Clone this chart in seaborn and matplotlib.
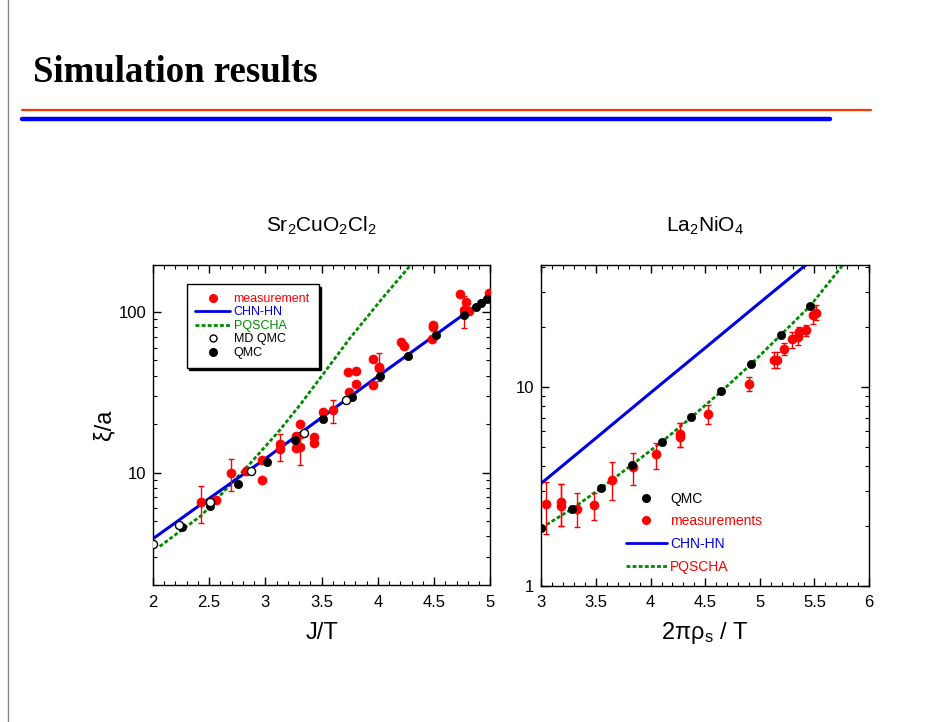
import pandas as pd
import seaborn as sns
import matplotlib.pyplot as plt
from matplotlib.lines import Line2D
from matplotlib.ticker import MultipleLocator, FuncFormatter, LogLocator, NullFormatter

# ---- Sr2CuO2Cl2 (left panel) ----
sr_meas_x = [2.43, 2.56, 2.69, 2.83, 2.97, 2.97, 3.13, 3.13, 3.27, 3.27, 3.31, 3.31, 3.43, 3.43,
             3.51, 3.60, 3.73, 3.81, 3.81, 3.74, 3.96, 3.96, 4.01, 4.01, 4.21, 4.23, 4.49, 4.49,
             4.48, 4.73, 4.78, 4.77, 4.81, 4.99]
sr_meas_y = [6.59, 6.78, 9.9, 10.2, 12.0, 8.97, 15.0, 14.1, 17.0, 14.3, 20.1, 14.4, 16.6, 15.3,
             23.9, 24.5, 42.2, 42.8, 35.5, 31.6, 51.0, 35.0, 45.7, 44.6, 64.9, 61.6, 82.7, 80.0,
             67.4, 130, 115, 103, 102, 132]
sr_err_x = [2.43, 2.69, 3.13, 3.31, 3.60, 4.01, 4.77]
sr_err_y = [6.59, 9.9, 15.0, 14.4, 24.5, 45.7, 103]
sr_err_lo = [4.86, 7.7, 11.8, 11.1, 20.4, 36.9, 79.6]
sr_err_hi = [8.28, 12.2, 17.5, 16.5, 28.4, 55.2, 125]

sr_qmc_x = [2.26, 2.51, 2.76, 3.01, 3.26, 3.51, 3.77, 4.02, 4.27, 4.52, 4.77, 4.87, 4.92, 4.97]
sr_qmc_y = [4.57, 6.22, 8.47, 11.7, 15.9, 21.7, 29.5, 39.8, 53.2, 71.4, 95.3, 107, 114, 121]

sr_mdqmc_x = [2.00, 2.23, 2.51, 2.87, 3.34, 3.72]
sr_mdqmc_y = [3.61, 4.72, 6.59, 10.2, 17.7, 28.1]

sr_chn_x = [2.0, 2.5, 3.0, 3.5, 4.0, 4.5, 5.0]
sr_chn_y = [3.87, 6.9, 12.2, 22.0, 39.7, 71.0, 127]

sr_pq_x = [2.06, 2.43, 2.86, 3.12, 3.31, 3.52, 3.75, 4.05, 4.30]
sr_pq_y = [3.47, 5.4, 11.3, 18.1, 26.5, 41.6, 68.4, 124, 199]

# ---- La2NiO4 (right panel) ----
la_qmc_x = [3.00, 3.28, 3.55, 3.83, 4.10, 4.37, 4.64, 4.92, 5.19, 5.46]
la_qmc_y = [1.95, 2.43, 3.10, 4.05, 5.27, 7.08, 9.55, 13.0, 18.2, 25.5]

la_meas_x = [3.04, 3.18, 3.18, 3.33, 3.48, 3.65, 3.84, 4.05, 4.27, 4.27, 4.53, 4.90,
             5.13, 5.16, 5.22, 5.29, 5.35, 5.36, 5.42, 5.49, 5.51]
la_meas_y = [2.57, 2.62, 2.50, 2.44, 2.55, 3.40, 3.93, 4.58, 5.80, 5.61, 7.30, 10.3,
             13.7, 13.7, 15.5, 17.3, 17.8, 18.9, 19.2, 22.9, 23.5]
la_meas_lo = [1.82, 1.99, 1.99, 1.96, 2.13, 2.68, 3.22, 3.85, 5.00, 5.00, 6.47, 9.51,
              12.4, 12.4, 14.4, 15.7, 16.2, 17.8, 18.0, 20.8, 21.6]
la_meas_hi = [3.30, 3.25, 3.25, 2.92, 2.92, 4.17, 4.67, 5.24, 6.60, 6.60, 8.09, 11.2,
              15.0, 15.0, 16.6, 18.9, 19.5, 20.0, 20.4, 25.2, 25.7]

la_chn_x = [3.0, 3.5, 4.0, 4.5, 5.0, 5.42]
la_chn_y = [3.27, 5.52, 9.33, 15.7, 26.5, 41]

la_pq_x = [3.00, 3.28, 3.55, 3.83, 4.10, 4.37, 4.64, 4.92, 5.19, 5.46, 5.76]
la_pq_y = [1.95, 2.43, 3.10, 4.05, 5.27, 7.0, 9.4, 13.0, 18.2, 25.5, 41]

RED = '#ff0000'
BLUE = '#0000e6'
GREEN = '#008a00'

sns.set_style('ticks')
plt.rcParams['font.family'] = ['Liberation Sans Narrow', 'Liberation Sans', 'DejaVu Sans']
plt.rcParams['text.color'] = 'black'
plt.rcParams['axes.labelcolor'] = 'black'
plt.rcParams['mathtext.fontset'] = 'custom'
plt.rcParams['mathtext.rm'] = 'Liberation Sans'
plt.rcParams['mathtext.default'] = 'regular'

fig = plt.figure(figsize=(9.53, 7.22), dpi=100)
ax1 = fig.add_axes([0.1605, 0.190, 0.354, 0.443])
ax2 = fig.add_axes([0.568, 0.189, 0.344, 0.444])

dash = (0, (1.4, 0.8))

# left panel
sns.lineplot(x=sr_pq_x, y=sr_pq_y, ax=ax1, color=GREEN, lw=2, linestyle=dash, sort=False, estimator=None)
sns.lineplot(x=sr_chn_x, y=sr_chn_y, ax=ax1, color=BLUE, lw=2.2, sort=False, estimator=None)
ax1.errorbar(sr_err_x, sr_err_y,
             yerr=[[y - lo for y, lo in zip(sr_err_y, sr_err_lo)], [hi - y for y, hi in zip(sr_err_y, sr_err_hi)]],
             fmt='none', ecolor=RED, elinewidth=1, capsize=2.5, zorder=3)
sns.scatterplot(x=sr_meas_x, y=sr_meas_y, ax=ax1, color=RED, s=42, edgecolor=RED, zorder=4)
sns.scatterplot(x=sr_qmc_x, y=sr_qmc_y, ax=ax1, color='black', s=36, edgecolor='black', zorder=5)
sns.scatterplot(x=sr_mdqmc_x, y=sr_mdqmc_y, ax=ax1, color='white', s=34, edgecolor='black', linewidth=1, zorder=5)
ax1.set_yscale('log')
ax1.set_xlim(2, 5)
ax1.set_ylim(2.0, 196)

# right panel
sns.lineplot(x=la_chn_x, y=la_chn_y, ax=ax2, color=BLUE, lw=2.2, sort=False, estimator=None)
sns.lineplot(x=la_pq_x, y=la_pq_y, ax=ax2, color=GREEN, lw=2, linestyle=dash, sort=False, estimator=None)
ax2.errorbar(la_meas_x, la_meas_y,
             yerr=[[y - lo for y, lo in zip(la_meas_y, la_meas_lo)], [hi - y for y, hi in zip(la_meas_y, la_meas_hi)]],
             fmt='none', ecolor=RED, elinewidth=1, capsize=2.5, zorder=3)
sns.scatterplot(x=la_meas_x, y=la_meas_y, ax=ax2, color=RED, s=42, edgecolor=RED, zorder=4)
sns.scatterplot(x=la_qmc_x, y=la_qmc_y, ax=ax2, color='black', s=36, edgecolor='black', zorder=5)
ax2.set_yscale('log')
ax2.set_xlim(3, 6)
ax2.set_ylim(1, 41)

fmt = FuncFormatter(lambda v, p: '{:g}'.format(v))
for ax in (ax1, ax2):
    ax.xaxis.set_major_locator(MultipleLocator(0.5))
    ax.xaxis.set_minor_locator(MultipleLocator(0.1))
    ax.xaxis.set_major_formatter(fmt)
    ax.yaxis.set_major_locator(LogLocator(base=10))
    ax.yaxis.set_major_formatter(fmt)
    ax.yaxis.set_minor_locator(LogLocator(base=10, subs=range(2, 10)))
    ax.yaxis.set_minor_formatter(NullFormatter())
    ax.tick_params(which='both', direction='in', top=True, right=True, labelsize=12, colors='black')
    ax.tick_params(which='major', length=6, width=1)
    ax.tick_params(which='minor', length=3, width=0.8)
    for s in ax.spines.values():
        s.set_visible(True)
        s.set_color('black')
        s.set_linewidth(1)
    ax.tick_params(axis='x', pad=7)
    ax.tick_params(axis='y', pad=5)

ax1.set_xlabel('J/T', fontsize=17, labelpad=9)
ax1.set_ylabel('ξ/a', fontsize=17, labelpad=2)
ax2.set_xlabel('2πρ$_s$ / T', fontsize=17, labelpad=7)
ax2.set_ylabel('')
ax1.set_title('Sr$_2$CuO$_2$Cl$_2$', fontsize=15, pad=24)
ax2.set_title('La$_2$NiO$_4$', fontsize=15, pad=24)

# legends
h1 = [Line2D([], [], ls='none', marker='o', ms=5.5, color=RED),
      Line2D([], [], color=BLUE, lw=2),
      Line2D([], [], color=GREEN, lw=2, ls=dash),
      Line2D([], [], ls='none', marker='o', ms=5, mfc='white', mec='black'),
      Line2D([], [], ls='none', marker='o', ms=5.5, color='black')]
leg1 = ax1.legend(h1, ['measurement', 'CHN-HN', 'PQSCHA', 'MD QMC', 'QMC'],
                  loc='upper left', bbox_to_anchor=(0.10, 0.94), borderaxespad=0,
                  fontsize=9, frameon=True, fancybox=False, edgecolor='black',
                  shadow={'color': 'black', 'alpha': 1}, handlelength=2.8, handletextpad=0.25,
                  labelspacing=0.12, borderpad=0.7,
                  labelcolor=[RED, BLUE, GREEN, 'black', 'black'])
leg1.get_frame().set_linewidth(1)

h2 = [Line2D([], [], ls='none', marker='o', ms=5.5, color='black'),
      Line2D([], [], ls='none', marker='o', ms=5.5, color=RED),
      Line2D([], [], color=BLUE, lw=2),
      Line2D([], [], color=GREEN, lw=2, ls=dash)]
ax2.legend(h2, ['QMC', 'measurements', 'CHN-HN', 'PQSCHA'],
           loc='upper left', bbox_to_anchor=(0.24, 0.31), borderaxespad=0,
           fontsize=10, frameon=False, handlelength=3.0, handletextpad=0.2,
           labelspacing=0.62, labelcolor=['black', RED, BLUE, RED])

# slide decorations
fig.text(0.035, 0.887, 'Simulation results', fontsize=26.5, fontweight='bold',
         family='Liberation Serif', va='baseline', ha='left', color='black')
fig.add_artist(Line2D([22 / 953, 871 / 953], [1 - 110 / 722] * 2, color='#ff3300', lw=1.6))
fig.add_artist(Line2D([22 / 953, 830 / 953], [1 - 118.5 / 722] * 2, color='#0000ff', lw=3.2))
fig.add_artist(Line2D([8 / 953, 8 / 953], [0, 1], color='#888888', lw=1))

fig.savefig('out.png', dpi=100)
